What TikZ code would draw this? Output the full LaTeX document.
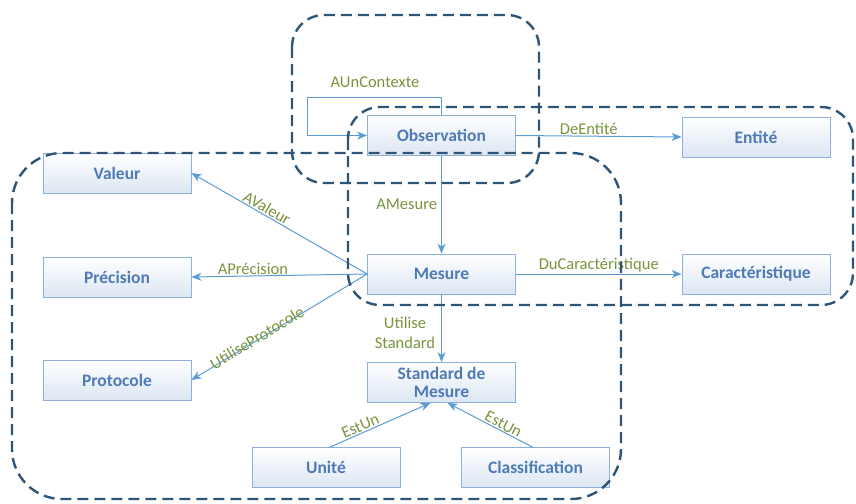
\documentclass[tikz,border=0pt]{standalone}
\usepackage{fontspec}
\setmainfont{Carlito}
\usetikzlibrary{arrows.meta,calc}
\definecolor{ntext}{HTML}{4E7AB5}
\definecolor{nbord}{HTML}{8EAEDB}
\definecolor{nfill}{HTML}{DCE6F3}
\definecolor{arr}{HTML}{5B9BD5}
\definecolor{lgreen}{HTML}{77933C}
\definecolor{grpc}{HTML}{2E5478}
\begin{document}
\begin{tikzpicture}[x=1pt,y=-1pt,
  box/.style={draw=nbord, line width=0.8pt, top color=white, bottom color=nfill,
    minimum width=148pt, minimum height=40pt, text=ntext,
    font=\fontsize{17.5}{19}\selectfont\bfseries, inner sep=0pt, align=center},
  rel/.style={draw=arr, line width=1pt, -{Stealth[length=10pt,width=8pt,inset=3pt]}},
  lab/.style={text=lgreen, font=\fontsize{16.5}{20}\selectfont, inner sep=1pt},
  grp/.style={draw=grpc, line width=2.4pt, dash pattern=on 11pt off 6pt}
]
\useasboundingbox (0,0) rectangle (856,503);

% nodes
\node[box] (obs)  at (441.5,135.5) {Observation};
\node[box] (ent)  at (756,137)     {Entité};
\node[box] (val)  at (117,173)     {Valeur};
\node[box] (prec) at (117,277)     {Précision};
\node[box] (mes)  at (441.5,274)   {Mesure};
\node[box] (car)  at (756,274)     {Caractéristique};
\node[box] (prot) at (117,380)     {Protocole};
\node[box] (std)  at (441.5,382.5) {Standard de\\[-1pt]Mesure};
\node[box] (uni)  at (326,467.5)   {Unité};
\node[box] (cls)  at (535.5,467.5) {Classification};

% self loop
\coordinate (lpA) at (307,97);
\draw[rel] (obs.north) -- (obs.north |- lpA) -- (lpA) |- (obs.west);
\node[lab] (lauc) at (375,82) {AUnContexte};

% relations
\draw[rel] (obs.east) -- node[lab, above, pos=0.44] {DeEntité} (ent.west);
\draw[rel] (obs.south) -- node[lab, left, inner sep=4pt] {AMesure} (mes.north);
\draw[rel] (mes.west) -- node[lab, sloped, above, pos=0.59] {AValeur} (val.east);
\draw[rel] (mes.west) -- node[lab, above, pos=0.65] {APrécision} (prec.east);
\draw[rel] (mes.west) -- node[lab, sloped, above=-5pt, pos=0.62] {UtiliseProtocole} (prot.east);
\draw[rel] (mes.east) -- node[lab, above, pos=0.5] {DuCaractéristique} (car.west);
\draw[rel] (mes.south) -- (std.north);
\node[lab, align=center] (lus) at (405,333) {Utilise\\Standard};
\draw[rel] ($(uni.north)+(4,0)$) -- node[lab, sloped, above, pos=0.33] {EstUn} ($(std.south)+(-11,0)$);
\draw[rel] ($(cls.north)+(-3,0)$) -- node[lab, sloped, above, pos=0.38] {EstUn} ($(std.south)+(6,0)$);

% dashed groups
\draw[grp, rounded corners=32pt] (292,15) rectangle (539,183);
\draw[grp, rounded corners=32pt] (348,107) rectangle (853,305);
\draw[grp, rounded corners=50pt] (12,153) rectangle (621,499);
\end{tikzpicture}
\end{document}
